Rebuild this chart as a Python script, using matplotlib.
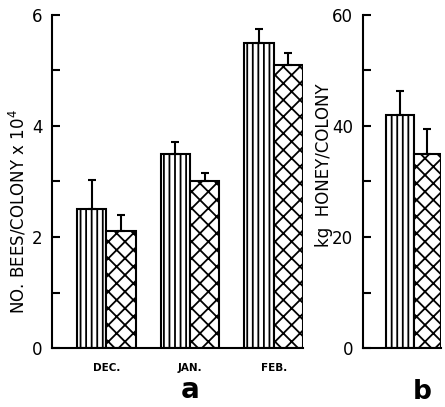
import numpy as np
import matplotlib
matplotlib.use("Agg")
import matplotlib.pyplot as plt

# panel a: bees per colony (x 10^4)
months = ["DEC.", "JAN.", "FEB."]
bees_striped = [2.5, 3.5, 5.5]
bees_striped_err = [0.53, 0.21, 0.25]
bees_cross = [2.1, 3.0, 5.1]
bees_cross_err = [0.3, 0.15, 0.22]

# panel b: honey per colony (kg)
honey_striped = [42.0]
honey_striped_err = [4.3]
honey_cross = [35.0]
honey_cross_err = [4.5]

plt.rcParams['hatch.linewidth'] = 1.3
plt.rcParams['font.family'] = ['DejaVu Sans']

fig = plt.figure(figsize=(4.45, 4.07), dpi=100)
ax1 = fig.add_axes([52 / 445, 59 / 407, 251 / 445, 333 / 407])
ax2 = fig.add_axes([363 / 445, 59 / 407, 78 / 445, 333 / 407])

w = 0.35


def draw(ax, vals1, err1, vals2, err2):
    x = np.arange(len(vals1))
    ax.bar(x - w / 2, vals1, w, color='white', edgecolor='black',
           linewidth=1.5, hatch='|||')
    ax.bar(x + w / 2, vals2, w, color='white', edgecolor='black',
           linewidth=1.5, hatch='xx')
    ax.errorbar(x - w / 2, vals1, yerr=[np.zeros(len(x)), err1], fmt='none',
                ecolor='black', elinewidth=1.5, capsize=3, capthick=1.5)
    ax.errorbar(x + w / 2, vals2, yerr=[np.zeros(len(x)), err2], fmt='none',
                ecolor='black', elinewidth=1.5, capsize=3, capthick=1.5)
    for s in ['top', 'right']:
        ax.spines[s].set_visible(False)
    for s in ['left', 'bottom']:
        ax.spines[s].set_linewidth(1.5)
    ax.tick_params(axis='y', direction='in', length=6, width=1.5,
                   pad=7, labelsize=12)
    ax.tick_params(axis='x', length=0)
    return x


x = draw(ax1, bees_striped, bees_striped_err, bees_cross, bees_cross_err)
ax1.set_xlim(-0.65, 2.35)
ax1.set_ylim(0, 6)
ax1.set_yticks(range(7))
ax1.set_yticklabels(['0', '', '2', '', '4', '', '6'])
ax1.set_xticks(x)
ax1.set_xticklabels(months, fontsize=7.5, fontweight='bold')
ax1.tick_params(axis='x', pad=11)
ax1.set_ylabel("NO. BEES/COLONY x 10$^4$", fontsize=12)
ax1.yaxis.set_label_coords(-0.092, 0.41)

draw(ax2, honey_striped, honey_striped_err, honey_cross, honey_cross_err)
ax2.set_xlim(-0.65, 0.35)
ax2.set_ylim(0, 60)
ax2.set_yticks(range(0, 61, 10))
ax2.set_yticklabels(['0', '', '20', '', '40', '', '60'])
ax2.set_xticks([])
ax2.set_ylabel("kg  HONEY/COLONY", fontsize=12)
ax2.yaxis.set_label_coords(-0.385, 0.55)

fig.text(190 / 445, 1 - 390 / 407, "a", fontsize=20, fontweight='bold',
         ha='center', va='center')
fig.text(422 / 445, 1 - 392 / 407, "b", fontsize=19, fontweight='bold',
         ha='center', va='center')

fig.savefig("out.png", dpi=100)
